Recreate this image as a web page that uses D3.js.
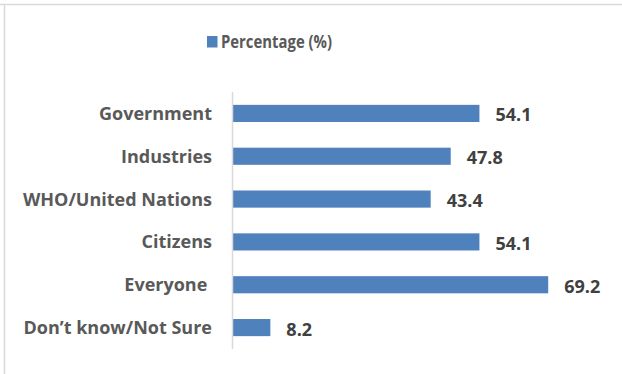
<!DOCTYPE html>
<html>
<head>
<meta charset="utf-8">
<script src="https://cdnjs.cloudflare.com/ajax/libs/d3/7.8.5/d3.min.js"></script>
<style>
  body { margin: 0; background: #fff; }
  text { font-family: "Open Sans", "Liberation Sans", sans-serif; font-weight: bold; white-space: pre; }
</style>
</head>
<body>
<script>
var categories = ["Government", "Industries", "WHO/United Nations", "Citizens", "Everyone ", "Don\u2019t know/Not Sure"];
var values = [54.1, 47.8, 43.4, 54.1, 69.2, 8.2];
var seriesName = "Percentage (%)";

var W = 622, H = 374;
var barColor = "#4f81bd";

var svg = d3.select("body").append("svg").attr("width", W).attr("height", H);

// frame (top + left only visible)
svg.append("line").attr("x1", 0).attr("x2", W).attr("y1", 4.5).attr("y2", 4.5)
      .attr("stroke", "#d9d9d9").attr("stroke-width", 1.5);
svg.append("line").attr("x1", 4.5).attr("x2", 4.5).attr("y1", 4).attr("y2", H)
      .attr("stroke", "#d9d9d9").attr("stroke-width", 1.5);

var x = d3.scaleLinear().domain([0, 80]).range([233, 233 + 80 * 4.555]);
var y = d3.scaleBand().domain(categories).range([92, 349]).paddingInner(0.6).paddingOuter(0.3);

svg.selectAll("rect.bar")
      .data(values)
      .enter().append("rect")
      .attr("class", "bar")
      .attr("x", x(0))
      .attr("y", function (d, i) { return y(categories[i]); })
      .attr("width", function (d) { return x(d) - x(0); })
      .attr("height", y.bandwidth())
      .attr("fill", barColor);

// category axis line
svg.append("line")
      .attr("x1", x(0) - 0.5).attr("x2", x(0) - 0.5)
      .attr("y1", 92).attr("y2", 349)
      .attr("stroke", "#d9d9d9").attr("stroke-width", 1.5);

svg.selectAll("text.cat")
      .data(categories)
      .enter().append("text")
      .attr("class", "cat")
      .attr("x", 212)
      .attr("y", function (d) { return y(d) + y.bandwidth() / 2; })
      .attr("dy", "0.36em")
      .attr("font-size", 18)
      .attr("text-anchor", "end")
      .attr("fill", "#595959")
      .text(function (d) { return d; });

svg.selectAll("text.val")
      .data(values)
      .enter().append("text")
      .attr("class", "val")
      .attr("x", function (d) { return x(d) + 16; })
      .attr("y", function (d, i) { return y(categories[i]) + y.bandwidth() / 2; })
      .attr("dy", "0.44em")
      .attr("font-size", 18)
      .attr("fill", "#404040")
      .text(function (d) { return d.toFixed(1); });

// legend
var legend = svg.append("g");
legend.append("rect").attr("x", 207).attr("y", 36).attr("width", 10.5).attr("height", 11.5).attr("fill", barColor);
legend.append("text").attr("x", 221).attr("y", 42).attr("dy", "0.36em")
      .attr("font-size", 17).attr("fill", "#595959")
      .attr("textLength", 111).attr("lengthAdjust", "spacingAndGlyphs")
      .text(seriesName);
</script>
</body>
</html>
